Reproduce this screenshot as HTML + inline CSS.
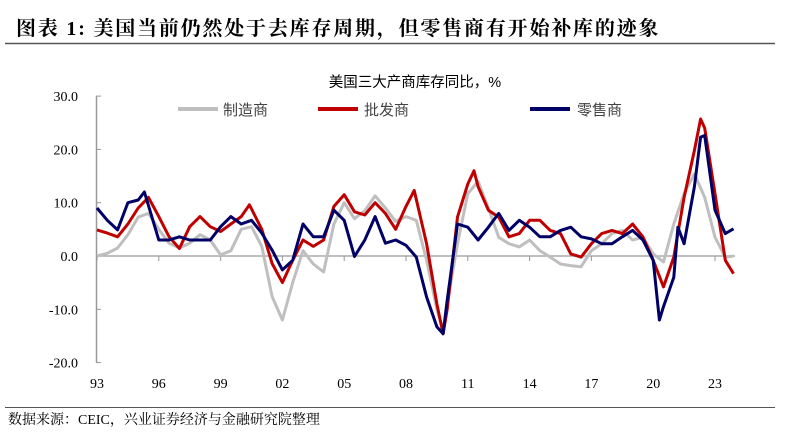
<!DOCTYPE html>
<html><head><meta charset="utf-8">
<style>
body{margin:0;background:#fff;width:787px;height:434px;overflow:hidden;}
svg{display:block;}
.ser{font-family:"Liberation Serif","Noto Serif CJK SC",serif;}
.sans{font-family:"Liberation Sans","Noto Sans CJK SC",sans-serif;}
</style></head><body>
<svg id="chart" width="787" height="434" viewBox="0 0 787 434">
<text x="16" y="35" class="ser" font-size="20" font-weight="bold" letter-spacing="1.8" fill="#000">图表 1:  美国当前仍然处于去库存周期，但零售商有开始补库的迹象</text>
<line x1="5" y1="43.5" x2="775" y2="43.5" stroke="#555" stroke-width="1.5"/>
<text x="415" y="87" text-anchor="middle" class="sans" font-size="14.5" fill="#000">美国三大产商库存同比，%</text>
<g>
<g><line x1="178" y1="109" x2="218" y2="109" stroke="#bfbfbf" stroke-width="4"/><text x="223" y="115" class="sans" font-size="15" fill="#444">制造商</text></g>
<g><line x1="318" y1="109" x2="358" y2="109" stroke="#c00000" stroke-width="4"/><text x="364" y="115" class="sans" font-size="15" fill="#444">批发商</text></g>
<g><line x1="530" y1="109" x2="570" y2="109" stroke="#000066" stroke-width="4"/><text x="577" y="115" class="sans" font-size="15" fill="#444">零售商</text></g>
</g>
<g id="axes"></g>
<g id="series"></g>
<line x1="5" y1="407.5" x2="775" y2="407.5" stroke="#555" stroke-width="1"/>
<text x="8" y="424" class="ser" font-size="14" fill="#000">数据来源：CEIC，兴业证券经济与金融研究院整理</text>
</svg>
<script>
const yTicks=[30,20,10,0,-10,-20];
const yTickLabels=["30.0","20.0","10.0","0.0","-10.0","-20.0"];
const xTickYears=[1993,1996,1999,2002,2005,2008,2011,2014,2017,2020,2023];
const xTickLabels=["93","96","99","02","05","08","11","14","17","20","23"];
const manufDates=[1993,1993.5,1994,1994.5,1995,1995.5,1996,1996.5,1997,1997.5,1998,1998.5,1999,1999.5,2000,2000.5,2001,2001.5,2002,2002.5,2003,2003.5,2004,2004.5,2005,2005.5,2006,2006.5,2007,2007.5,2008,2008.5,2009,2009.5,2009.8,2010,2010.5,2011,2011.5,2012,2012.5,2013,2013.5,2014,2014.5,2015,2015.5,2016,2016.5,2017,2017.5,2018,2018.5,2019,2019.5,2020,2020.5,2021,2021.5,2022,2022.5,2023,2023.5,2023.9];
const manufValues=[0,0.5,1.5,4,7.3,8,5,2.4,1.5,2.4,4,3,0.2,1,5,5.5,1.8,-7.6,-12,-5,1,-1.5,-3,6,10,7,8.5,11.3,9,6.5,7.4,6.7,-0.8,-10,-14,-9,2.3,11.7,14,9,3.5,2.3,1.7,3,1,-0.2,-1.5,-1.8,-2,1,2.3,4.2,4.8,3,3.5,0.4,-1.1,6,11.7,15.4,11,3.5,-0.2,0];
const wholeDates=[1993,1993.5,1994,1994.5,1995,1995.5,1996,1996.5,1997,1997.5,1998,1998.5,1999,1999.5,2000,2000.4,2001,2001.5,2002,2002.5,2003,2003.5,2004,2004.5,2005,2005.5,2006,2006.5,2007,2007.5,2008,2008.4,2009,2009.5,2009.8,2010,2010.5,2011,2011.3,2011.5,2012,2012.5,2013,2013.5,2014,2014.5,2015,2015.5,2016,2016.5,2017,2017.5,2018,2018.5,2019,2019.5,2020,2020.5,2021,2021.5,2022,2022.3,2022.5,2023,2023.5,2023.9];
const wholeValues=[4.9,4.3,3.6,6,9,11,7.4,3.6,1.4,5.5,7.4,5.5,4.6,6,7.4,9.6,5,-1.4,-5,-0.8,3,1.8,3,9.3,11.5,8.3,7.7,10,8,5,9.3,12.3,2.3,-9,-14.6,-10,7.3,13.5,16,13,8.6,7.3,3.6,4.2,6.7,6.7,4.8,4.2,0.4,-0.2,2.3,4.2,4.8,4.2,6,3.6,-0.8,-5.8,-0.2,11,19.8,25.7,24,11.7,-0.8,-3.3];
const retailDates=[1993,1993.5,1994,1994.5,1995,1995.3,1996,1996.5,1997,1997.5,1998,1998.5,1999,1999.5,2000,2000.5,2001,2001.5,2002,2002.5,2003,2003.5,2004,2004.5,2005,2005.5,2006,2006.5,2007,2007.5,2008,2008.5,2009,2009.5,2009.8,2010,2010.5,2011,2011.5,2012,2012.5,2013,2013.5,2014,2014.5,2015,2015.5,2016,2016.5,2017,2017.5,2018,2018.5,2019,2019.5,2020,2020.3,2020.5,2021,2021.2,2021.5,2022,2022.3,2022.5,2023,2023.5,2023.9];
const retailValues=[9,6.7,4.9,10,10.5,12,3,3,3.6,3,3,3,5.5,7.4,6,6.7,4.3,1.1,-2.6,-0.8,6,3.6,3.6,8.6,6.7,-0.1,3,7.4,2.4,3,2,-0.2,-7.7,-13.3,-14.6,-8.3,6,5.4,3,5.4,8,4.8,6.7,5.4,3.6,3.6,4.8,5.4,3.6,3.2,2.3,2.3,3.6,4.8,3,-0.8,-12,-9.5,-4,5.4,2.3,13,22.3,22.6,8.6,4.2,5.1];

const NS="http://www.w3.org/2000/svg";
const X0=97, PXY=20.6, Y0=256, PXV=5.33;
function xs(yr){return X0+(yr-1993)*PXY;}
function ys(v){return Y0-v*PXV;}
const axes=document.getElementById('axes');
function mk(tag,attrs,parent){const e=document.createElementNS(NS,tag);for(const k in attrs)e.setAttribute(k,attrs[k]);parent.appendChild(e);return e;}
const yAxis=mk('line',{x1:96.5,y1:ys(30),x2:96.5,y2:ys(-20),stroke:'#999','stroke-width':1.5},axes);


const xAxis=mk('line',{x1:96.5,y1:ys(0),x2:735,y2:ys(0),stroke:'#aaa','stroke-width':1.5},axes);


yTicks.forEach((v,i)=>{
  const t=mk('line',{x1:96,y1:ys(v),x2:101,y2:ys(v),stroke:'#999','stroke-width':1},axes);
  
  
  const l=mk('text',{x:78,y:ys(v)+5,'text-anchor':'end','font-size':14,class:'ser',fill:'#000'},axes);
  l.textContent=yTickLabels[i];
  
  
});
xTickYears.forEach((yr,i)=>{
  const t=mk('line',{x1:xs(yr),y1:ys(0),x2:xs(yr),y2:ys(0)+5,stroke:'#999','stroke-width':1},axes);
  
  
  const l=mk('text',{x:xs(yr),y:388,'text-anchor':'middle','font-size':14,class:'ser',fill:'#000'},axes);
  l.textContent=xTickLabels[i];
  
  
});
const series=document.getElementById('series');
function draw(dates,vals,color,name){
  const d=dates.map((t,i)=>(i?'L':'M')+xs(t).toFixed(1)+','+ys(vals[i]).toFixed(1)).join('');
  const p=mk('path',{d:d,fill:'none',stroke:color,'stroke-width':3,'stroke-linejoin':'round'},series);
  
  
}
draw(manufDates,manufValues,'#bfbfbf','manufacturing-line');
draw(wholeDates,wholeValues,'#c00000','wholesale-line');
draw(retailDates,retailValues,'#000066','retail-line');
</script>
</body></html>
